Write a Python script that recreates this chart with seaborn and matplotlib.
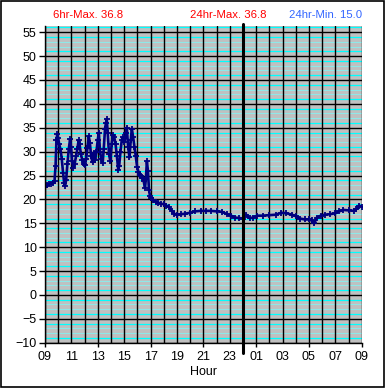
import numpy as np
import pandas as pd
import matplotlib
matplotlib.use("Agg")
import matplotlib.pyplot as plt
from matplotlib.patches import Rectangle
from matplotlib.ticker import FixedLocator
import seaborn as sns

# ---- data (hours since 00:00 of day 1; >24 means next day) ----
hours = [9.0, 9.15, 9.3, 9.45, 9.6, 9.72, 9.8, 9.87, 9.93, 10.0, 10.08, 10.17, 10.27,
         10.37, 10.45, 10.52, 10.6, 10.7, 10.8, 10.9, 10.97, 11.05, 11.15, 11.25, 11.35,
         11.45, 11.55, 11.62, 11.72, 11.82, 11.92, 12.02, 12.12, 12.22, 12.32, 12.4, 12.5,
         12.6, 12.7, 12.8, 12.9, 13.0, 13.08, 13.17, 13.27, 13.37, 13.45, 13.55, 13.62,
         13.68, 13.75, 13.85, 13.95, 14.05, 14.15, 14.25, 14.35, 14.45, 14.55, 14.62, 14.72,
         14.82, 14.92, 15.02, 15.12, 15.2, 15.3, 15.4, 15.5, 15.58, 15.68, 15.78, 15.88,
         15.98, 16.08, 16.18, 16.28, 16.38, 16.48, 16.58, 16.65, 16.72, 16.8, 16.88, 16.95,
         17.05, 17.2, 17.4, 17.6, 17.8, 18.0, 18.2, 18.4, 18.6, 18.8, 19.0, 19.3, 19.6, 20.0,
         20.4, 20.8, 21.2, 21.6, 22.0, 22.4, 22.8, 23.1, 23.4, 23.7, 24.0, 24.25, 24.5, 24.8,
         25.1, 25.5, 26.0, 26.5, 26.9, 27.3, 27.7, 28.0, 28.3, 28.7, 29.0, 29.2, 29.4, 29.6,
         29.9, 30.2, 30.6, 31.0, 31.3, 31.6, 32.0, 32.4, 32.6, 32.8, 33.0]
temps = [22.5, 23.0, 23.2, 23.3, 23.5, 23.8, 27.0, 32.5, 33.6, 32.8, 31.5, 30.5, 28.5,
         25.5, 23.5, 22.8, 24.0, 27.5, 30.5, 32.6, 31.0, 28.0, 26.6, 27.5, 29.0,
         30.5, 32.4, 31.5, 29.5, 28.3, 27.5, 27.2, 28.5, 30.8, 33.2, 31.8, 29.0,
         27.8, 29.8, 28.3, 30.0, 32.5, 34.0, 30.0, 28.5, 27.6, 30.5, 34.8, 36.0,
         36.8, 34.0, 29.5, 28.0, 31.5, 33.5, 33.0, 31.5, 29.0, 26.2, 27.0, 30.0,
         32.5, 33.0, 32.0, 33.8, 35.0, 31.0, 28.8, 32.5, 34.8, 33.0, 31.0, 29.0,
         26.8, 25.8, 25.2, 24.8, 24.5, 23.8, 22.4, 24.5, 28.0, 26.0, 22.0, 20.8,
         20.2, 19.8, 19.5, 19.3, 19.1, 19.0, 18.7, 18.4, 17.6, 17.0, 16.8, 16.9, 17.0, 17.2,
         17.5, 17.6, 17.6, 17.6, 17.5, 17.4, 16.9, 16.6, 16.2, 16.1, 16.0, 16.8, 16.1, 16.2,
         16.6, 16.6, 16.7, 16.8, 17.2, 17.1, 16.8, 16.5, 16.0, 15.8, 15.8, 15.6, 15.0, 16.2,
         16.6, 16.8, 16.9, 17.1, 17.5, 17.8, 17.7, 17.6, 18.0, 18.7, 18.5]
x_tick_pos = [9, 11, 13, 15, 17, 19, 21, 23, 25, 27, 29, 31, 33]
x_tick_labels = ["09", "11", "13", "15", "17", "19", "21", "23", "01", "03", "05", "07", "09"]
y_ticks = list(range(-10, 60, 5))
header_texts = ["6hr-Max. 36.8", "24hr-Max. 36.8", "24hr-Min. 15.0"]
midnight = 24

df = pd.DataFrame({"hour": hours, "temp": temps})

sns.set_theme(style="white")
plt.rcParams["font.family"] = ["Liberation Sans", "DejaVu Sans"]

fig = plt.figure(figsize=(3.85, 3.88), dpi=100)
ax = fig.add_axes([45 / 385, 1 - 342.7 / 388, (361.7 - 45) / 385, (342.7 - 26) / 388])
ax.set_facecolor("#c0c0c0")

# background grid: cyan minor horizontals, black majors on top
for v in range(-10, 57):
    r = v % 5
    if r in (1, 4):
        ax.axhline(v, color="#00ffff", linewidth=0.9, zorder=1)
    elif r in (2, 3):
        ax.axhline(v, color="#8fe8e8", linewidth=0.8, zorder=1)
for v in y_ticks:
    ax.axhline(v, color="black", linewidth=1.0, zorder=2)
for h in range(9, 34):
    ax.axvline(h, color="black", linewidth=1.0, zorder=2)

sns.lineplot(data=df, x="hour", y="temp", ax=ax, color="#000080", linewidth=1.9,
             marker="+", markersize=4.5, markeredgewidth=1.3, markeredgecolor="#000080",
             estimator=None, sort=False, zorder=5)

ax.set_xlim(9, 33)
ax.set_ylim(-10, 56.3)

ax.yaxis.set_major_locator(FixedLocator(y_ticks))
ax.xaxis.set_major_locator(FixedLocator(x_tick_pos))
ax.set_xticklabels(x_tick_labels)
ax.grid(False)

ax.tick_params(axis="y", which="major", direction="out", length=4, width=1, color="black",
               labelsize=9, pad=2, left=True, labelcolor="black")
ax.tick_params(axis="x", which="major", direction="out", length=3, width=1, color="black",
               labelsize=9, pad=3, bottom=True, labelcolor="black")
for i, t in enumerate(ax.xaxis.get_major_ticks()):
    t.tick1line.set_visible(i % 2 == 0)

for s in ["top", "right"]:
    ax.spines[s].set_visible(False)
for s in ["left", "bottom"]:
    ax.spines[s].set_color("black")
    ax.spines[s].set_linewidth(1.0)
    ax.spines[s].set_zorder(6)

ax.axvline(midnight, ymin=-0.033, ymax=1.007, color="black", linewidth=2.2,
           clip_on=False, zorder=6)

ax.set_xlabel("Hour", fontsize=9, labelpad=2, color="black")
ax.set_ylabel("")

fig.text(87.7 / 385, 1 - 15 / 388, header_texts[0], color="#ff0000", fontsize=8.2,
         ha="center", va="center")
fig.text(228 / 385, 1 - 15 / 388, header_texts[1], color="#ff0000", fontsize=8.2,
         ha="center", va="center")
fig.text(326 / 385, 1 - 15 / 388, header_texts[2], color="#3366ff", fontsize=8.2,
         ha="center", va="center")

fig.patches.append(Rectangle((0.5 / 385, 1.5 / 388), 383 / 385, 385.5 / 388,
                             transform=fig.transFigure, fill=False, edgecolor="black",
                             linewidth=1.2))

fig.savefig("out.png", dpi=100)
